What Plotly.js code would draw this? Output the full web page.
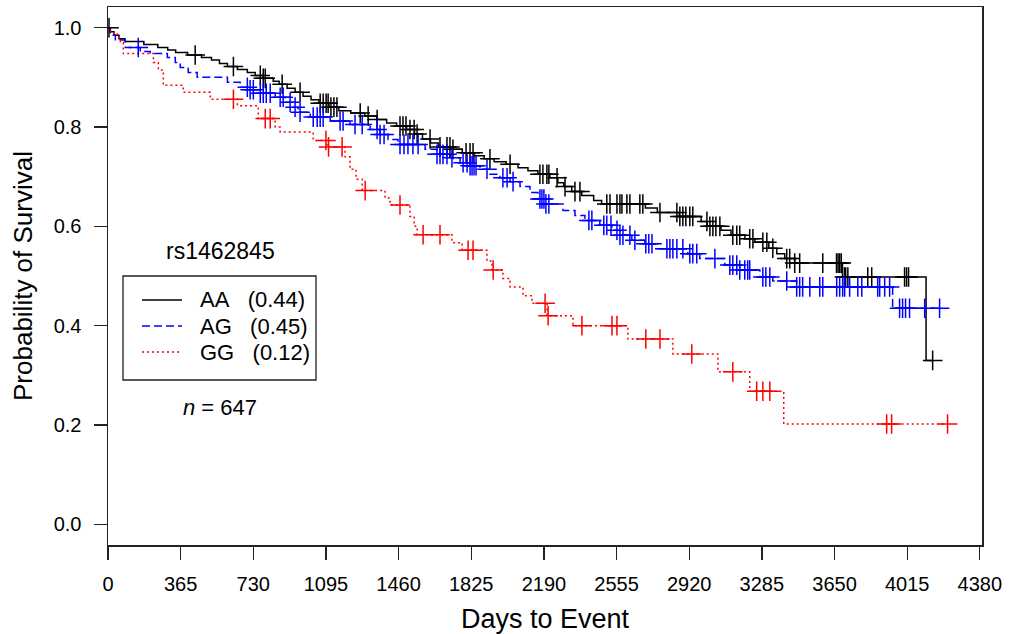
<!DOCTYPE html>
<html>
<head>
<meta charset="utf-8">
<script src="https://cdn.plot.ly/plotly-3.0.1.min.js"></script>
<style>html,body{margin:0;padding:0;background:#fff;}#chart{width:1018px;height:634px;}</style>
</head>
<body>
<div id="chart"></div>
<script>
// ---- data ----
const seriesNames = ["AA\u00a0\u00a0\u00a0(0.44)", "AG\u00a0\u00a0\u00a0(0.45)", "GG\u00a0\u00a0\u00a0(0.12)"];
const snpLabel = "rs1462845";
const nLabel = "<i>n</i> = 647";
const xTicks = [0, 365, 730, 1095, 1460, 1825, 2190, 2555, 2920, 3285, 3650, 4015, 4380];
const yTicks = [0.0, 0.2, 0.4, 0.6, 0.8, 1.0];
const yTickText = ["0.0", "0.2", "0.4", "0.6", "0.8", "1.0"];

// AA: event times (days) and survival after each step
const aaTimes = [0,10,30,55,85,180,250,300,340,400,470,520,560,600,650,700,740,780,830,860,900,940,980,1020,1060,1110,1160,1220,1290,1350,1400,1450,1500,1540,1580,1620,1660,1720,1780,1840,1890,1940,2000,2060,2110,2160,2220,2260,2290,2330,2380,2440,2480,2700,2760,2870,2980,3010,3080,3130,3200,3250,3320,3360,3400,3450,3690,4110];
const aaSurv = [1.0,0.992,0.985,0.978,0.972,0.966,0.960,0.955,0.950,0.945,0.940,0.935,0.928,0.922,0.916,0.910,0.904,0.898,0.892,0.886,0.878,0.870,0.862,0.855,0.848,0.840,0.833,0.828,0.822,0.815,0.808,0.802,0.795,0.786,0.776,0.768,0.760,0.755,0.748,0.742,0.736,0.730,0.725,0.718,0.712,0.705,0.698,0.688,0.680,0.670,0.662,0.652,0.645,0.637,0.628,0.620,0.610,0.600,0.592,0.582,0.575,0.568,0.556,0.545,0.535,0.526,0.498,0.33];
const aaCensor = [5,438,630,765,780,790,875,965,1066,1081,1096,1106,1120,1135,1150,1267,1307,1352,1467,1482,1497,1517,1538,1553,1618,1668,1703,1718,1733,1799,1819,1834,1919,2020,2170,2185,2205,2215,2256,2296,2346,2371,2506,2522,2557,2572,2582,2607,2622,2672,2687,2773,2858,2873,2888,2903,2923,2938,3009,3024,3039,3054,3074,3139,3159,3174,3224,3240,3290,3310,3340,3410,3425,3450,3475,3591,3660,3668,3676,3684,3700,3706,3717,3817,3837,4002,4012,4022,4143];

// AG
const agTimes = [0,12,37,87,162,212,298,338,363,403,448,600,664,714,755,840,890,930,955,1016,1116,1216,1317,1367,1407,1457,1593,1653,1718,1769,1819,1869,1919,1969,2020,2070,2120,2160,2195,2286,2346,2396,2471,2532,2572,2632,2697,2748,2913,2973,3099,3174,3275,3340,3460,3942];
const agSurv = [1.0,0.985,0.975,0.96,0.952,0.948,0.94,0.93,0.92,0.91,0.90,0.89,0.88,0.875,0.868,0.86,0.85,0.84,0.83,0.82,0.812,0.805,0.795,0.785,0.775,0.765,0.755,0.745,0.738,0.728,0.722,0.715,0.705,0.698,0.69,0.68,0.668,0.655,0.645,0.632,0.622,0.612,0.602,0.592,0.582,0.572,0.565,0.555,0.545,0.535,0.522,0.512,0.498,0.49,0.478,0.435];
const agCensor = [152,700,714,730,765,780,795,815,865,880,915,940,965,1031,1051,1066,1081,1166,1181,1241,1277,1352,1367,1387,1467,1487,1507,1532,1558,1653,1668,1683,1703,1728,1784,1804,1819,1829,1839,1849,1904,1984,2005,2035,2170,2180,2190,2200,2215,2416,2431,2491,2506,2527,2557,2572,2587,2622,2647,2702,2717,2733,2808,2823,2838,2858,2888,2923,2938,2958,3049,3124,3139,3159,3174,3199,3214,3224,3290,3305,3325,3410,3460,3475,3490,3526,3576,3591,3661,3676,3691,3701,3726,3767,3787,3867,3877,3902,3927,3977,3992,4007,4027,4103,4178];

// GG
const ggTimes = [0,12,47,62,77,228,253,278,378,514,650,755,840,865,1031,1100,1191,1216,1246,1277,1392,1417,1517,1538,1553,1728,1779,1904,1929,1984,2020,2085,2130,2206,2336,2612,2838,3064,3224,3395];
const ggSurv = [1.0,0.99,0.98,0.97,0.948,0.93,0.915,0.884,0.87,0.856,0.843,0.817,0.80,0.79,0.773,0.76,0.74,0.715,0.695,0.672,0.657,0.643,0.62,0.60,0.583,0.567,0.552,0.53,0.512,0.495,0.478,0.46,0.445,0.42,0.40,0.373,0.343,0.307,0.268,0.202];
const ggCensor = [630,790,815,1095,1108,1176,1292,1467,1583,1668,1809,1834,1935,2196,2211,2381,2532,2557,2702,2773,2933,3139,3259,3290,3325,3912,3937,4218];

// ---- build traces ----
function survAt(times, surv, t) {
  let s = surv[0];
  for (let i = 0; i < times.length; i++) { if (times[i] <= t) s = surv[i]; else break; }
  return s;
}
const groups = [
  {name: seriesNames[0], times: aaTimes, surv: aaSurv, cens: aaCensor, color: "#000000", dash: "solid"},
  {name: seriesNames[1], times: agTimes, surv: agSurv, cens: agCensor, color: "#0000ff", dash: "8px,4px"},
  {name: seriesNames[2], times: ggTimes, surv: ggSurv, cens: ggCensor, color: "#ff0000", dash: "2px,3px"}
];
const traces = [];
groups.forEach(g => {
  const endT = Math.max(g.times[g.times.length - 1], g.cens[g.cens.length - 1]);
  traces.push({
    type: "scatter", mode: "lines", name: g.name, showlegend: false,
    x: g.times.concat([endT]), y: g.surv.concat([g.surv[g.surv.length - 1]]),
    line: {shape: "hv", color: g.color, width: 1.5, dash: g.dash},
    hoverinfo: "skip"
  });
});
groups.forEach(g => {
  traces.push({
    type: "scatter", mode: "markers", showlegend: false,
    x: g.cens, y: g.cens.map(t => survAt(g.times, g.surv, t)),
    marker: {symbol: "cross-thin", size: 14, color: g.color, line: {width: 1.5, color: g.color}},
    hoverinfo: "skip"
  });
});

// ---- layout helpers (pixel -> paper) ----
const W = 1018, H = 634, ML = 108, MR = 36, MT = 7, MB = 89;
const PW = W - ML - MR, PH = H - MT - MB;
const px = v => (v - ML) / PW;
const py = v => (H - MB - v) / PH;

const FONT = "Liberation Sans, Arial, Helvetica, sans-serif";
const shapes = [
  {type: "rect", xref: "paper", yref: "paper", x0: px(123), x1: px(316), y0: py(380), y1: py(276),
   line: {color: "#222", width: 1.3}, fillcolor: "rgba(0,0,0,0)"}
];
const annotations = [
  {xref: "paper", yref: "paper", x: px(220), y: py(251), text: snpLabel,
   showarrow: false, xanchor: "center", yanchor: "middle", font: {family: FONT, size: 23, color: "#000"}},
  {xref: "paper", yref: "paper", x: px(220), y: py(407), text: nLabel,
   showarrow: false, xanchor: "center", yanchor: "middle", font: {family: FONT, size: 22, color: "#000"}}
];
const legendRows = [300, 326, 352];
groups.forEach((g, i) => {
  shapes.push({type: "line", xref: "paper", yref: "paper", x0: px(142), x1: px(182), y0: py(legendRows[i]), y1: py(legendRows[i]),
               line: {color: g.color, width: 1.5, dash: g.dash}});
  annotations.push({xref: "paper", yref: "paper", x: px(198), y: py(legendRows[i]), text: g.name,
                    showarrow: false, xanchor: "left", yanchor: "middle", font: {family: FONT, size: 22, color: "#000"}});
});

const layout = {
  width: W, height: H,
  margin: {l: ML, r: MR, t: MT, b: MB, pad: 0},
  paper_bgcolor: "#ffffff", plot_bgcolor: "#ffffff",
  font: {family: FONT, color: "#000000", size: 20},
  showlegend: false,
  xaxis: {
    range: [0, 4391], tickvals: xTicks, ticktext: xTicks.map(String),
    ticks: "outside", ticklen: 13, tickwidth: 1.3, tickcolor: "#222",
    showline: true, mirror: true, linecolor: "#222", linewidth: 1.5,
    showgrid: false, zeroline: false, ticklabelstandoff: 7,
    tickfont: {family: FONT, size: 20, color: "#000"},
    title: {text: "Days to Event", font: {family: FONT, size: 27, color: "#000"}, standoff: 15}
  },
  yaxis: {
    range: [-0.0417, 1.0417], tickvals: yTicks, ticktext: yTickText,
    ticks: "outside", ticklen: 13, tickwidth: 1.3, tickcolor: "#222",
    showline: true, mirror: true, linecolor: "#222", linewidth: 1.5,
    showgrid: false, zeroline: false, ticklabelstandoff: 8,
    tickfont: {family: FONT, size: 20, color: "#000"},
    title: {text: "Probability of Survival", font: {family: FONT, size: 26, color: "#000"}, standoff: 13}
  },
  shapes: shapes,
  annotations: annotations
};
Plotly.newPlot("chart", traces, layout, {staticPlot: true, displayModeBar: false});
</script>
</body>
</html>
